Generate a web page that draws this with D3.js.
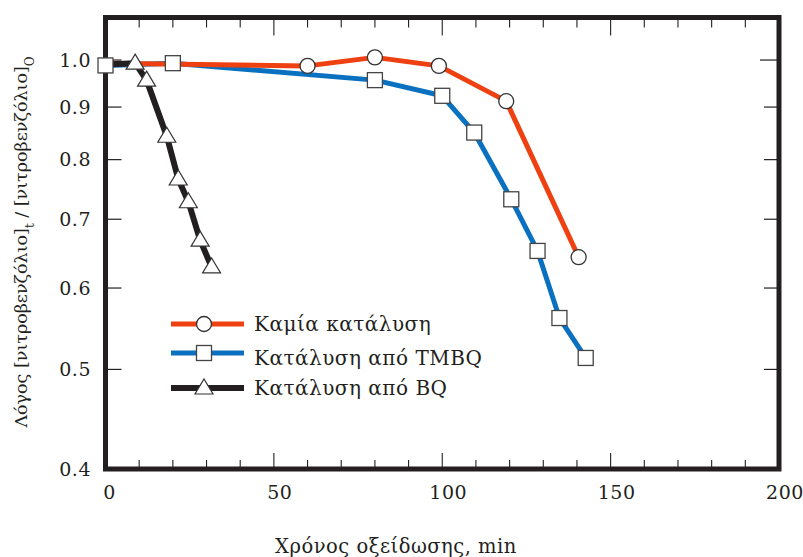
<!DOCTYPE html>
<html>
<head>
<meta charset="utf-8">
<script src="https://cdn.jsdelivr.net/npm/d3@7"></script>
<style>
  body { margin: 0; background: #fff; }
  text { font-family: "DejaVu Serif", serif; fill: #231f20; }
</style>
</head>
<body>
<div id="chart"></div>
<script>
var svgWidth = 803;
var svgHeight = 557;

// frame edges (centre of the thick border)
var frame = { left: 105.5, right: 779, top: 17.5, bottom: 469 };

// data
var noCatTime  = [0, 60, 80, 99, 119, 140.5];
var noCatRatio = [0.993, 0.987, 1.006, 0.987, 0.912, 0.643];

var tmbqTime  = [0, 20, 80, 100, 109.5, 120.5, 128.3, 134.8, 142.6];
var tmbqRatio = [0.988, 0.993, 0.956, 0.923, 0.850, 0.732, 0.652, 0.561, 0.513];

var bqTime  = [0, 8.8, 12.2, 18.2, 21.6, 24.6, 28.1, 31.5];
var bqRatio = [0.99, 0.993, 0.956, 0.843, 0.766, 0.728, 0.668, 0.629];

var seriesNames = ["Καμία κατάλυση", "Κατάλυση από TMBQ", "Κατάλυση από BQ"];
var yTickValues = [0.4, 0.5, 0.6, 0.7, 0.8, 0.9, 1.0];
var xTickValues = [0, 50, 100, 150, 200];

var svg = d3.select("#chart")
  .append("svg")
  .attr("width", svgWidth)
  .attr("height", svgHeight);

var xScale = d3.scaleLinear()
  .domain([0, 200])
  .range([frame.left, frame.right]);

var yScale = d3.scaleLog()
  .domain([0.4, 1.1])
  .range([frame.bottom, frame.top]);

var ink = "#231f20";

// minor / major ticks, all pointing inwards
var minorX = d3.range(10, 200, 10);
minorX.forEach(function(v) {
  var major = v % 50 === 0;
  svg.append("line")
    .attr("x1", xScale(v)).attr("x2", xScale(v))
    .attr("y1", frame.bottom).attr("y2", frame.bottom - (major ? 16 : 9))
    .attr("stroke", ink).attr("stroke-width", 1.1);
  svg.append("line")
    .attr("x1", xScale(v)).attr("x2", xScale(v))
    .attr("y1", frame.top).attr("y2", frame.top + (major ? 18 : 10))
    .attr("stroke", ink).attr("stroke-width", 1.1);
});

yTickValues.slice(1).forEach(function(v) {
  svg.append("line")
    .attr("x1", frame.left).attr("x2", frame.left + 16)
    .attr("y1", yScale(v)).attr("y2", yScale(v))
    .attr("stroke", ink).attr("stroke-width", 1.2);
  svg.append("line")
    .attr("x1", frame.right).attr("x2", frame.right - (v === 1.0 ? 19 : 15))
    .attr("y1", yScale(v)).attr("y2", yScale(v))
    .attr("stroke", ink).attr("stroke-width", 1.2);
});

// frame
svg.append("rect")
  .attr("x", frame.left)
  .attr("y", frame.top)
  .attr("width", frame.right - frame.left)
  .attr("height", frame.bottom - frame.top)
  .attr("fill", "none")
  .attr("stroke", ink)
  .attr("stroke-width", 5);

// tick labels
svg.selectAll(".ylab")
  .data(yTickValues)
  .enter()
  .append("text")
  .attr("x", 91)
  .attr("y", d => yScale(d))
  .attr("dy", "0.35em")
  .attr("text-anchor", "end")
  .style("font-size", "19px")
  .style("letter-spacing", "0.5px")
  .text(d => d.toFixed(1));

svg.selectAll(".xlab")
  .data(xTickValues)
  .enter()
  .append("text")
  .attr("x", d => xScale(d) + (d === 0 ? 4 : 6))
  .attr("y", 499)
  .attr("text-anchor", "middle")
  .style("font-size", "19px")
  .style("letter-spacing", "0.5px")
  .text(d => d);

// axis titles
svg.append("text")
  .attr("x", 396)
  .attr("y", 553)
  .attr("text-anchor", "middle")
  .style("font-size", "19.5px")
  .style("letter-spacing", "0.5px")
  .text("Χρόνος οξείδωσης, min");

var yTitle = svg.append("text")
  .attr("transform", "translate(27, 242) rotate(-90)")
  .attr("text-anchor", "middle")
  .style("font-size", "17.5px");
yTitle.append("tspan").text("Λόγος [νιτροβενζόλιο]");
yTitle.append("tspan").attr("baseline-shift", "sub").style("font-size", "12px").text("t");
yTitle.append("tspan").text(" / [νιτροβενζόλιο]");
yTitle.append("tspan").attr("baseline-shift", "sub").style("font-size", "12px").text("O");

// series
var series = [
  { name: seriesNames[0], t: noCatTime, r: noCatRatio, color: "#ee4010", width: 5, marker: "circle" },
  { name: seriesNames[1], t: tmbqTime, r: tmbqRatio, color: "#0a70c0", width: 5, marker: "square" },
  { name: seriesNames[2], t: bqTime, r: bqRatio, color: "#231f20", width: 6, marker: "triangle" }
];

var line = d3.line()
  .x(d => xScale(d[0]))
  .y(d => yScale(d[1]));

// blue under red, black on top
[series[1], series[0], series[2]].forEach(function(s) {
  svg.append("path")
    .datum(d3.zip(s.t, s.r))
    .attr("d", line)
    .attr("fill", "none")
    .attr("stroke", s.color)
    .attr("stroke-width", s.width)
    .attr("stroke-linejoin", "round");
});

function drawMarker(g, kind, x, y) {
  if (kind === "circle") {
    g.append("circle").attr("cx", x).attr("cy", y).attr("r", 7.5)
      .attr("fill", "#fff").attr("stroke", "#333").attr("stroke-width", 1.3);
  } else if (kind === "square") {
    g.append("rect").attr("x", x - 7.5).attr("y", y - 7.5).attr("width", 15).attr("height", 15)
      .attr("fill", "#fff").attr("stroke", "#444").attr("stroke-width", 1.3);
  } else {
    g.append("path")
      .attr("d", `M${x},${y - 9}L${x + 9},${y + 6}L${x - 9},${y + 6}Z`)
      .attr("fill", "#fff").attr("stroke", "#333").attr("stroke-width", 1.2);
  }
}

var markerGroup = svg.append("g");
[series[2], series[0], series[1]].forEach(function(s) {
  s.t.forEach(function(t, i) {
    if (s.marker === "circle" && i === 0) return; // hidden under the square
    if (s.marker === "triangle" && i === 0) return;
    drawMarker(markerGroup, s.marker, xScale(t), yScale(s.r[i]));
  });
});

// legend
var legendY = [324, 353, 388];
var legendBase = [331, 365, 395];
series.forEach(function(s, i) {
  var g = svg.append("g");
  g.append("line")
    .attr("x1", 171).attr("x2", 244)
    .attr("y1", legendY[i]).attr("y2", legendY[i])
    .attr("stroke", s.color)
    .attr("stroke-width", s.width);
  drawMarker(g, s.marker, 204, legendY[i]);
  g.append("text")
    .attr("x", 254)
    .attr("y", legendBase[i])
    .style("font-size", "20px")
    .style("letter-spacing", "0.5px")
    .text(s.name);
});
</script>
</body>
</html>
